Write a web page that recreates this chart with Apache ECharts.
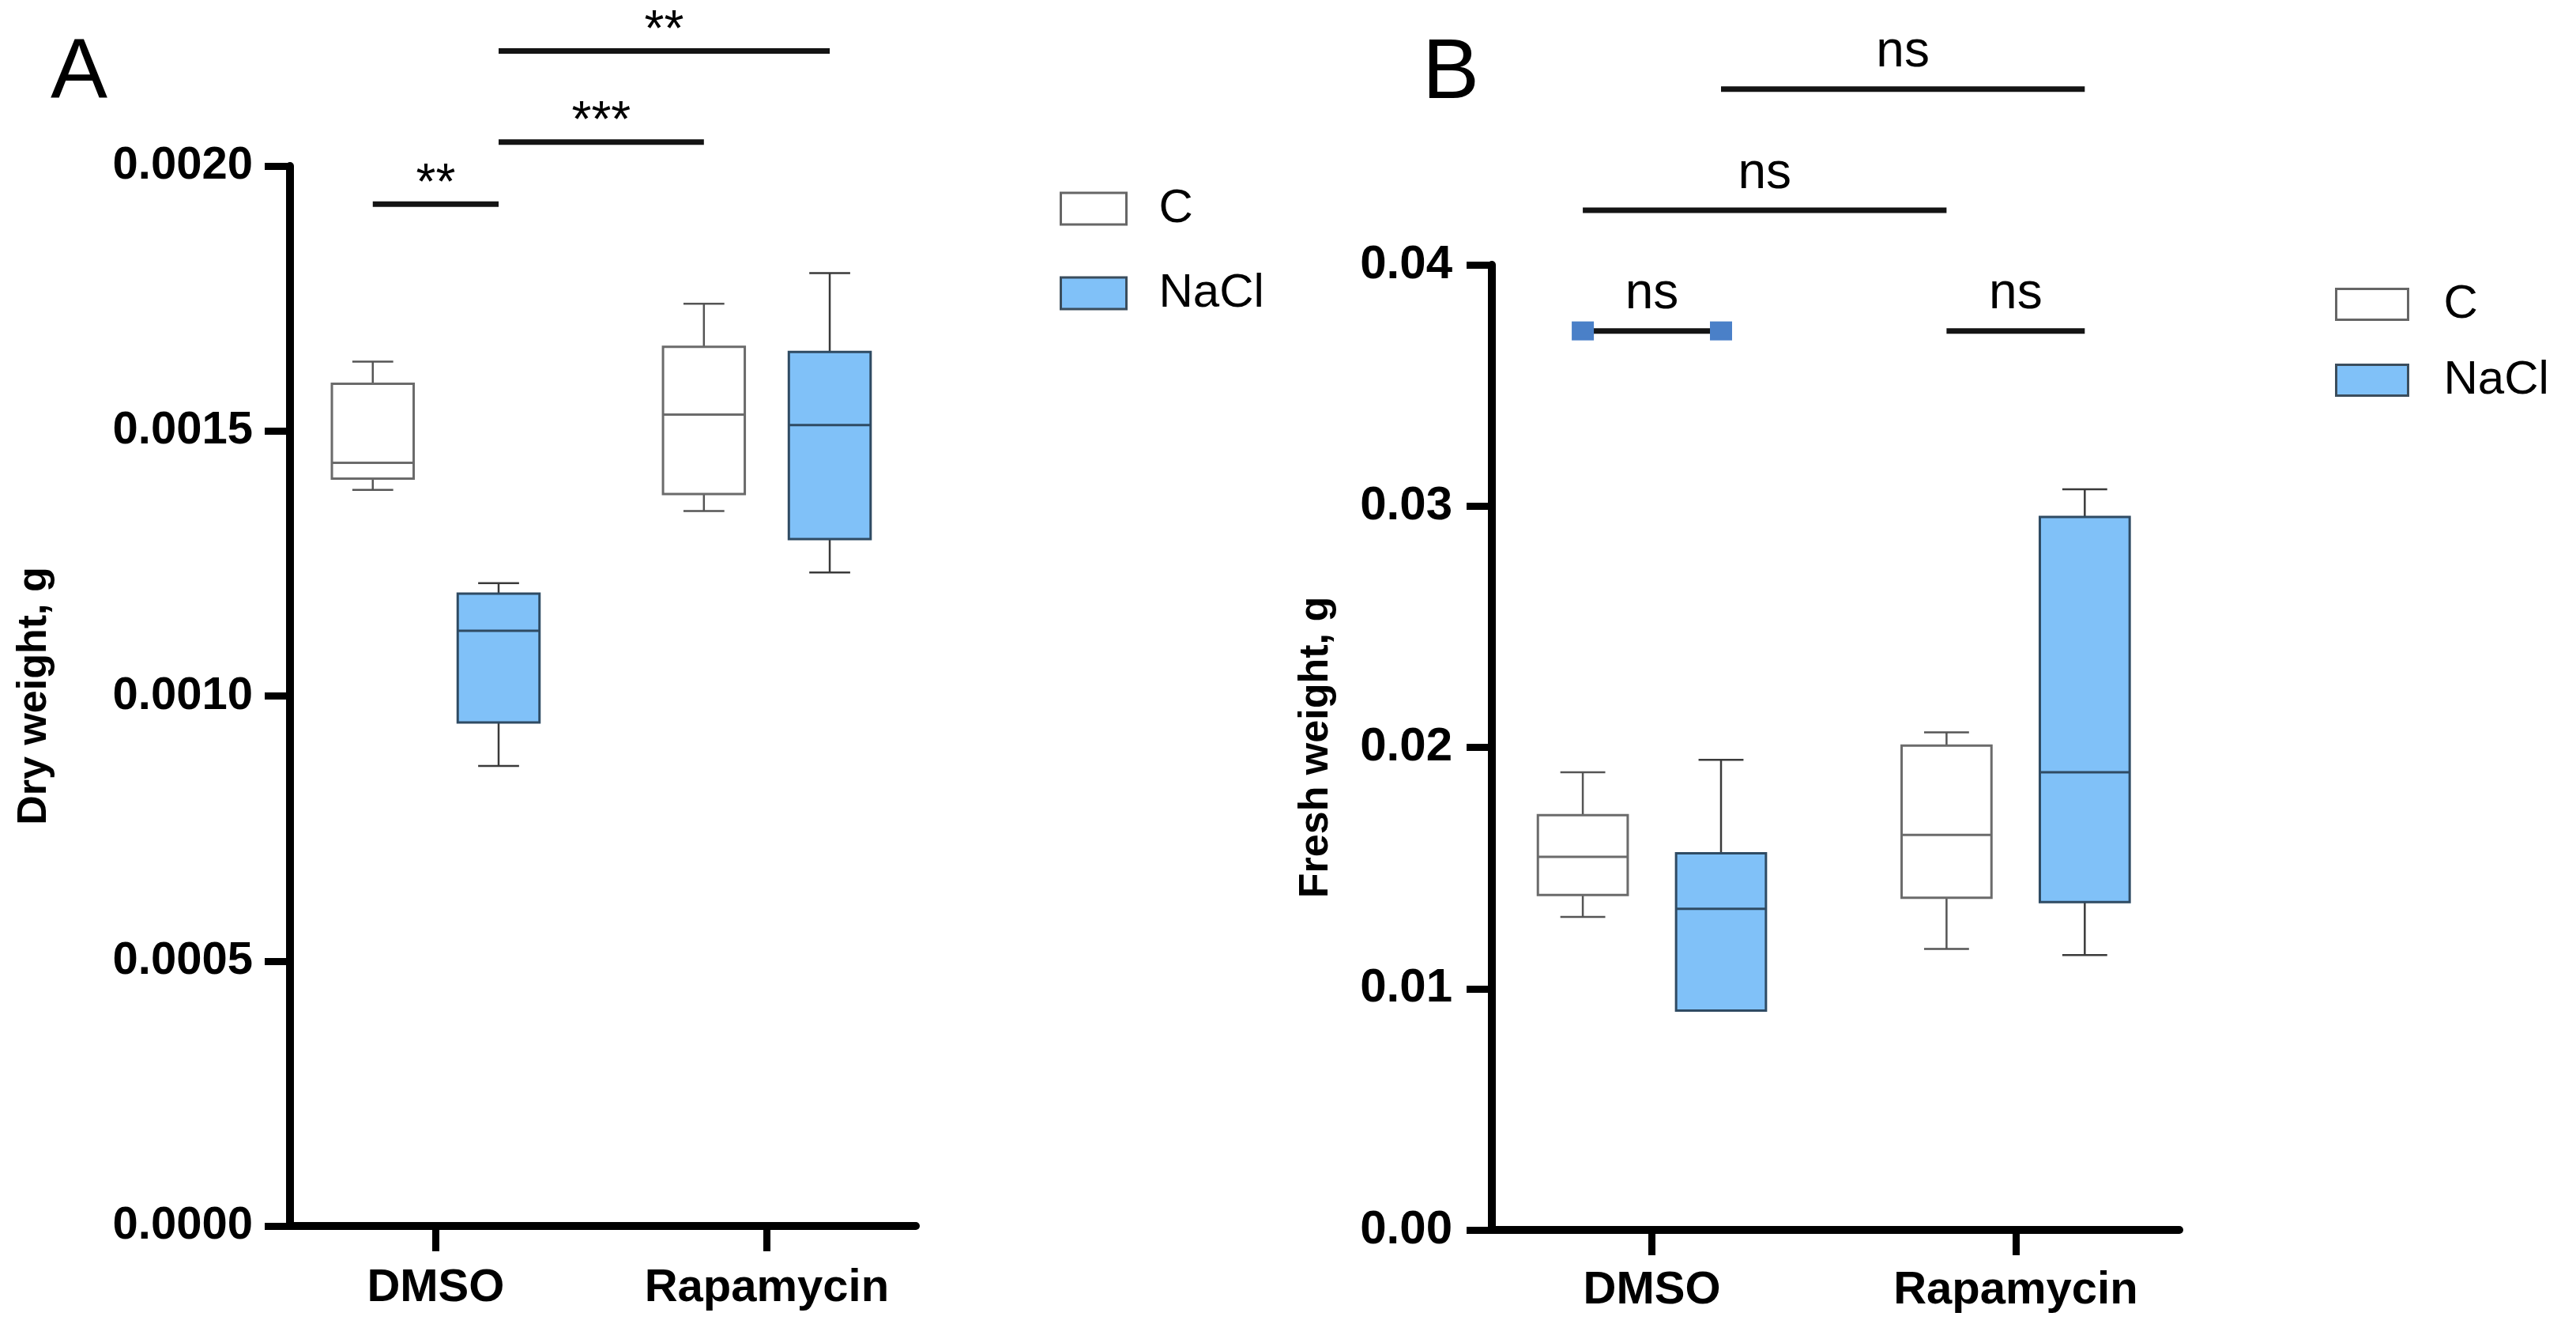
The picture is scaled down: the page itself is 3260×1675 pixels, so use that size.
<!DOCTYPE html>
<html>
<head>
<meta charset="utf-8">
<script src="https://cdn.jsdelivr.net/npm/echarts@6/dist/echarts.min.js"></script>
<style>
  html, body { margin: 0; padding: 0; background: #fff; }
  #main { width: 3260px; height: 1675px; }
</style>
</head>
<body>
<div id="main"></div>
<script>
// groups on the x axis and the two treatments
var groups = ['DMSO', 'Rapamycin'];
var treatments = ['C', 'NaCl'];

// box stats per group: [min, Q1, median, Q3, max]
var dryC = [[0.001389, 0.001410, 0.001440, 0.001589, 0.001631], [0.001349, 0.001381, 0.001531, 0.001659, 0.001740]];
var dryNaCl = [[0.000868, 0.000950, 0.001123, 0.001193, 0.001213], [0.001233, 0.001296, 0.001511, 0.001649, 0.001798]];
var freshC = [[0.01297, 0.01388, 0.01546, 0.01719, 0.01897], [0.01165, 0.01377, 0.01637, 0.02007, 0.02062]];
var freshNaCl = [[0.00909, 0.00909, 0.01331, 0.01561, 0.01948], [0.01139, 0.01359, 0.01897, 0.02955, 0.03070]];

// y axis ticks
var dryTicks = [0, 0.0005, 0.0010, 0.0015, 0.0020];
var freshTicks = [0, 0.01, 0.02, 0.03, 0.04];

// significance bars: [from box, to box, height, label]
// boxes: 0 DMSO/C, 1 DMSO/NaCl, 2 Rapamycin/C, 3 Rapamycin/NaCl
var drySig = [[0, 1, 0.001928, '**'], [1, 2, 0.002045, '***'], [1, 3, 0.002217, '**']];
var freshSig = [[0, 1, 0.03726, 'ns'], [2, 3, 0.03726, 'ns'], [0, 2, 0.04226, 'ns'], [1, 3, 0.04728, 'ns']];

var FONT = '"Liberation Sans", Arial, sans-serif';
var OFFSET = 0.19;   // box offset from group centre
var BOX_W = 0.247;   // box width in x units
var BLUE = '#80c1f8';

function boxX(i) {
    return Math.floor(i / 2) + (i % 2 === 0 ? -OFFSET : OFFSET);
}

var styles = {
    C: { fill: '#ffffff', stroke: '#6b6b6b', median: '#6b6b6b', whisker: '#555555' },
    NaCl: { fill: BLUE, stroke: '#2f4b63', median: '#2f4b63', whisker: '#3a3a3a' }
};

function boxData(stats, t) {
    return stats.map(function (s, g) {
        return [boxX(g * 2 + t)].concat(s);
    });
}

function makeRenderBox(st) {
    return function (params, api) {
        var x = api.value(0);
        var half = api.size([BOX_W, 0])[0] / 2;
        var capHalf = half * 0.5;
        var pMin = api.coord([x, api.value(1)]);
        var pQ1 = api.coord([x, api.value(2)]);
        var pMed = api.coord([x, api.value(3)]);
        var pQ3 = api.coord([x, api.value(4)]);
        var pMax = api.coord([x, api.value(5)]);
        var cx = pMin[0];
        var wl = { stroke: st.whisker, lineWidth: 2.5 };
        return {
            type: 'group',
            children: [
                { type: 'line', shape: { x1: cx, y1: pMax[1], x2: cx, y2: pQ3[1] }, style: wl },
                { type: 'line', shape: { x1: cx, y1: pQ1[1], x2: cx, y2: pMin[1] }, style: wl },
                { type: 'line', shape: { x1: cx - capHalf, y1: pMax[1], x2: cx + capHalf, y2: pMax[1] }, style: wl },
                { type: 'line', shape: { x1: cx - capHalf, y1: pMin[1], x2: cx + capHalf, y2: pMin[1] }, style: wl },
                { type: 'rect', shape: { x: cx - half, y: pQ3[1], width: half * 2, height: pQ1[1] - pQ3[1] },
                  style: { fill: st.fill, stroke: st.stroke, lineWidth: 3 } },
                { type: 'line', shape: { x1: cx - half, y1: pMed[1], x2: cx + half, y2: pMed[1] },
                  style: { stroke: st.median, lineWidth: 3 } }
            ]
        };
    };
}

function makeRenderSig(list, marked) {
    return function (params, api) {
        var p1 = api.coord([api.value(0), api.value(2)]);
        var p2 = api.coord([api.value(1), api.value(2)]);
        var label = list[params.dataIndex][3];
        var lift = label === 'ns' ? 46 : 24;
        var children = [
            { type: 'line', shape: { x1: p1[0], y1: p1[1], x2: p2[0], y2: p2[1] },
              style: { stroke: '#141414', lineWidth: 7 } },
            { type: 'text', x: (p1[0] + p2[0]) / 2, y: p1[1] - lift,
              style: { text: label, font: '64px ' + FONT, fill: '#000', align: 'center', verticalAlign: 'middle' } }
        ];
        if (params.dataIndex === marked) {
            [p1, p2].forEach(function (p) {
                children.push({ type: 'rect', shape: { x: p[0] - 14, y: p[1] - 12, width: 28, height: 24 },
                    style: { fill: '#4a80c8' } });
            });
        }
        return { type: 'group', children: children };
    };
}

function sigData(list) {
    return list.map(function (s) {
        return [boxX(s[0]), boxX(s[1]), s[2]];
    });
}

function xAxis(gridIndex, margin) {
    return {
        type: 'value', gridIndex: gridIndex, min: -0.44, max: 1.45,
        axisLine: { onZero: false, lineStyle: { color: '#000', width: 10 } },
        axisTick: { show: true, customValues: [0, 1], length: 32, lineStyle: { color: '#000', width: 9 } },
        axisLabel: { customValues: [0, 1], margin: margin, color: '#000', fontSize: 58, fontWeight: 'bold', fontFamily: FONT,
            formatter: function (v) { return groups[Math.round(v)]; } },
        splitLine: { show: false }
    };
}

function yAxis(gridIndex, ticks, digits, name, gap, margin, size) {
    return {
        type: 'value', gridIndex: gridIndex,
        min: ticks[0], max: ticks[ticks.length - 1], interval: ticks[1] - ticks[0],
        name: name, nameLocation: 'middle', nameGap: gap, nameRotate: 90,
        nameTextStyle: { color: '#000', fontSize: 52, fontWeight: 'bold', fontFamily: FONT },
        axisLine: { show: true, onZero: false, lineStyle: { color: '#000', width: 10 } },
        axisTick: { show: true, length: 32, lineStyle: { color: '#000', width: 9 } },
        axisLabel: { margin: margin, color: '#000', fontSize: size, fontWeight: 'bold', fontFamily: FONT,
            formatter: function (v) { return v.toFixed(digits); } },
        splitLine: { show: false }
    };
}

function legend(left, top, w, h, gap, textPad) {
    return {
        left: left, top: top, orient: 'vertical', icon: 'rect',
        itemWidth: w, itemHeight: h, itemGap: gap,
        textStyle: { color: '#000', fontSize: 60, fontFamily: FONT, padding: [0, 0, 0, textPad] },
        data: [
            { name: 'C', itemStyle: { color: '#fff', borderColor: '#666', borderWidth: 3 } },
            { name: 'NaCl', itemStyle: { color: BLUE, borderColor: '#3b4d5c', borderWidth: 3 } }
        ]
    };
}

var chart = echarts.init(document.getElementById('main'), null, { renderer: 'canvas' });

var option = {
    backgroundColor: '#fff',
    animation: false,
    title: [
        { text: 'A', left: 64, top: 40, padding: 0, textStyle: { fontSize: 108, fontWeight: 'normal', color: '#000', fontFamily: FONT } },
        { text: 'B', left: 1800, top: 40, padding: 0, textStyle: { fontSize: 108, fontWeight: 'normal', color: '#000', fontFamily: FONT } }
    ],
    legend: [legend(1336, 229, 83, 40, 47, 36), legend(2950, 350, 91, 39, 36, 40)],
    grid: [
        { left: 367, top: 210, width: 792, height: 1341 },
        { left: 1888, top: 335, width: 870, height: 1221 }
    ],
    xAxis: [xAxis(0, 50), xAxis(1, 48)],
    yAxis: [
        yAxis(0, dryTicks, 4, 'Dry weight, g', 297, 47, 58),
        yAxis(1, freshTicks, 2, 'Fresh weight, g', 196, 50, 60)
    ],
    series: [
        { name: 'C', type: 'custom', xAxisIndex: 0, yAxisIndex: 0, renderItem: makeRenderBox(styles.C),
          itemStyle: { color: '#fff' }, data: boxData(dryC, 0), encode: { x: 0, y: [1, 2, 3, 4, 5] } },
        { name: 'NaCl', type: 'custom', xAxisIndex: 0, yAxisIndex: 0, renderItem: makeRenderBox(styles.NaCl),
          itemStyle: { color: BLUE }, data: boxData(dryNaCl, 1), encode: { x: 0, y: [1, 2, 3, 4, 5] } },
        { name: 'C', type: 'custom', xAxisIndex: 1, yAxisIndex: 1, renderItem: makeRenderBox(styles.C),
          itemStyle: { color: '#fff' }, data: boxData(freshC, 0), encode: { x: 0, y: [1, 2, 3, 4, 5] } },
        { name: 'NaCl', type: 'custom', xAxisIndex: 1, yAxisIndex: 1, renderItem: makeRenderBox(styles.NaCl),
          itemStyle: { color: BLUE }, data: boxData(freshNaCl, 1), encode: { x: 0, y: [1, 2, 3, 4, 5] } },
        { name: 'sigA', type: 'custom', xAxisIndex: 0, yAxisIndex: 0, clip: false, silent: true,
          renderItem: makeRenderSig(drySig, -1), data: sigData(drySig), encode: { x: [0, 1], y: 2 } },
        { name: 'sigB', type: 'custom', xAxisIndex: 1, yAxisIndex: 1, clip: false, silent: true,
          renderItem: makeRenderSig(freshSig, 0), data: sigData(freshSig), encode: { x: [0, 1], y: 2 } }
    ]
};

chart.setOption(option);
</script>
</body>
</html>
